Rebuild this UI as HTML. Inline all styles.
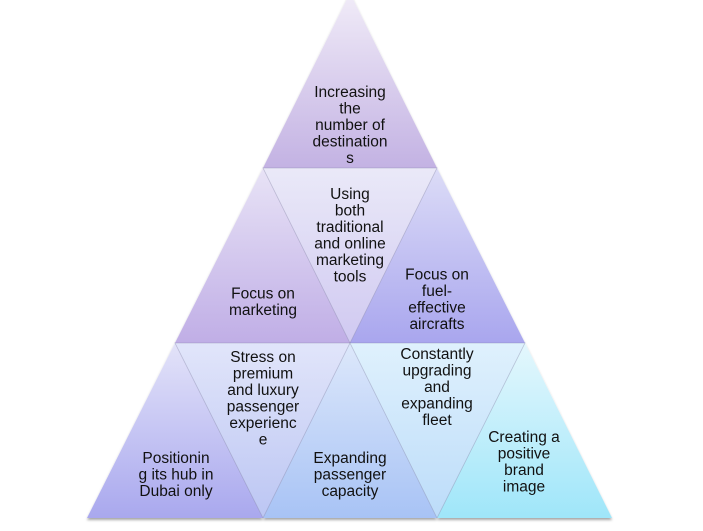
<!DOCTYPE html>
<html>
<head>
<meta charset="utf-8">
<style>
html,body{margin:0;padding:0;background:#fff;}
svg{display:block;}
text{font-family:"Liberation Sans",Arial,sans-serif;font-size:15.5px;fill:#111;text-anchor:middle;}
</style>
</head>
<body>
<svg width="703" height="531" viewBox="0 0 703 531" xmlns="http://www.w3.org/2000/svg">
<defs>
  <filter id="sh" x="-10%" y="-10%" width="120%" height="120%">
    <feDropShadow dx="0" dy="2" stdDeviation="1.3" flood-color="#000" flood-opacity="0.35"/>
  </filter>
  <linearGradient id="g1" x1="0" y1="0" x2="0" y2="1"><stop offset="0" stop-color="#f1ecf8"/><stop offset="1" stop-color="#c3b2e3"/></linearGradient>
  <linearGradient id="g2l" x1="0" y1="0" x2="0" y2="1"><stop offset="0" stop-color="#e8e3f6"/><stop offset="1" stop-color="#c0aee6"/></linearGradient>
  <linearGradient id="g2r" x1="0" y1="0" x2="0" y2="1"><stop offset="0" stop-color="#dcdcf7"/><stop offset="1" stop-color="#a9a6ee"/></linearGradient>
  <linearGradient id="g3l" x1="0" y1="0" x2="0" y2="1"><stop offset="0" stop-color="#e3e3f9"/><stop offset="1" stop-color="#a9a8ee"/></linearGradient>
  <linearGradient id="g3m" x1="0" y1="0" x2="0" y2="1"><stop offset="0" stop-color="#dde8fb"/><stop offset="1" stop-color="#a8c3f5"/></linearGradient>
  <linearGradient id="g3r" x1="0" y1="0" x2="0" y2="1"><stop offset="0" stop-color="#e4f7fd"/><stop offset="1" stop-color="#9fe6f9"/></linearGradient>
  <linearGradient id="i2" x1="0" y1="0" x2="0" y2="1"><stop offset="0" stop-color="#eae9f8"/><stop offset="1" stop-color="#d0c9f1"/></linearGradient>
  <linearGradient id="i3l" x1="0" y1="0" x2="0" y2="1"><stop offset="0" stop-color="#e1e5fa"/><stop offset="1" stop-color="#bcc6f3"/></linearGradient>
  <linearGradient id="i3r" x1="0" y1="0" x2="0" y2="1"><stop offset="0" stop-color="#dff1fd"/><stop offset="1" stop-color="#bcdcf9"/></linearGradient>
</defs>

<g filter="url(#sh)">
  <polygon points="350,-7 263,168 437,168" fill="url(#g1)"/>
  <polygon points="263,168 175,343 350,343" fill="url(#g2l)"/>
  <polygon points="437,168 350,343 525,343" fill="url(#g2r)"/>
  <polygon points="175,343 87,518 263,518" fill="url(#g3l)"/>
  <polygon points="350,343 263,518 437,518" fill="url(#g3m)"/>
  <polygon points="525,343 437,518 612,518" fill="url(#g3r)"/>
</g>
<g stroke="rgba(110,110,150,0.35)" stroke-width="0.8">
  <polygon points="263,168 437,168 350,343" fill="url(#i2)"/>
  <polygon points="175,343 350,343 263,518" fill="url(#i3l)"/>
  <polygon points="350,343 525,343 437,518" fill="url(#i3r)"/>
</g>

<!-- Top -->
<text x="350" y="97">Increasing</text>
<text x="350" y="113.5">the</text>
<text x="350" y="130">number of</text>
<text x="350" y="146.5">destination</text>
<text x="350" y="163">s</text>

<!-- Row 2 middle -->
<text x="350" y="199">Using</text>
<text x="350" y="215.5">both</text>
<text x="350" y="232">traditional</text>
<text x="350" y="248.5">and online</text>
<text x="350" y="265">marketing</text>
<text x="350" y="281.5">tools</text>

<!-- Row 2 left -->
<text x="263" y="298.5">Focus on</text>
<text x="263" y="315">marketing</text>

<!-- Row 2 right -->
<text x="437" y="279.5">Focus on</text>
<text x="437" y="296">fuel-</text>
<text x="437" y="312.5">effective</text>
<text x="437" y="329">aircrafts</text>

<!-- Row 3 inverted left -->
<text x="263" y="362">Stress on</text>
<text x="263" y="378.5">premium</text>
<text x="263" y="395">and luxury</text>
<text x="263" y="411.5">passenger</text>
<text x="263" y="428">experienc</text>
<text x="263" y="444.5">e</text>

<!-- Row 3 inverted right -->
<text x="437" y="359">Constantly</text>
<text x="437" y="375.5">upgrading</text>
<text x="437" y="392">and</text>
<text x="437" y="408.5">expanding</text>
<text x="437" y="425">fleet</text>

<!-- Row 3 left -->
<text x="176" y="463">Positionin</text>
<text x="176" y="479.5">g its hub in</text>
<text x="176" y="496">Dubai only</text>

<!-- Row 3 middle -->
<text x="350" y="463">Expanding</text>
<text x="350" y="479.5">passenger</text>
<text x="350" y="496">capacity</text>

<!-- Row 3 right -->
<text x="524" y="442">Creating a</text>
<text x="524" y="458.5">positive</text>
<text x="524" y="475">brand</text>
<text x="524" y="491.5">image</text>
</svg>
</body>
</html>
